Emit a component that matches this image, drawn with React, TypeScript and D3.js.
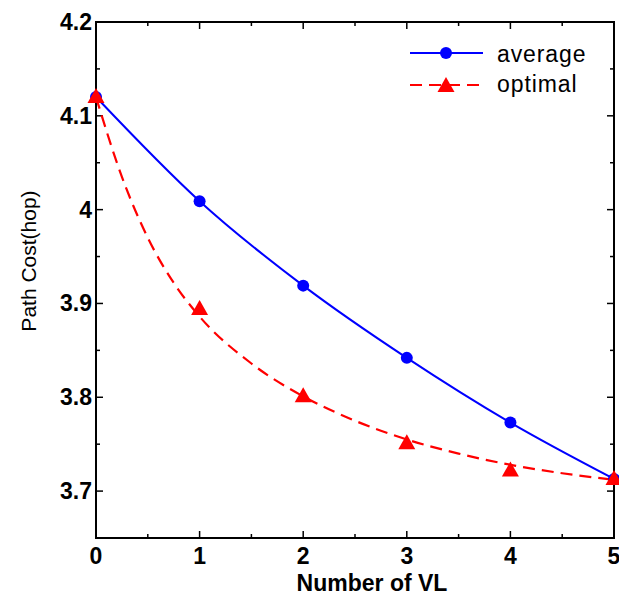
import React from "react";
import * as d3 from "d3";

const vlCounts = [0, 1, 2, 3, 4, 5];
const averageCost = [4.12, 4.009, 3.919, 3.842, 3.773, 3.713];
const optimalCost = [4.12, 3.894, 3.801, 3.751, 3.722, 3.713];
const optimalFitX = [0, 0.25, 0.5, 0.75, 1, 1.5, 2, 2.5, 3, 3.5, 4, 4.5, 5];
const optimalFitY = [4.12, 4.035, 3.97, 3.922, 3.886, 3.836, 3.801, 3.775, 3.755, 3.74, 3.728, 3.719, 3.712];
const xTicks = [0, 1, 2, 3, 4, 5];
const xMinor = [0.5, 1.5, 2.5, 3.5, 4.5];
const yTicks = [3.7, 3.8, 3.9, 4.0, 4.1, 4.2];
const yTickLabels = ["3.7", "3.8", "3.9", "4", "4.1", "4.2"];
const yMinor = [3.65, 3.75, 3.85, 3.95, 4.05, 4.15];
const seriesNames = ["average", "optimal"];

const W = 619, H = 600;
const L = 96, R = 614, T = 22, B = 538;

export default function App() {
  const x = d3.scaleLinear().domain([0, 5]).range([L, R]);
  const y = d3.scaleLinear().domain([3.65, 4.2]).range([B, T]);
  const avgLine = d3.line<number>().x((_, i) => x(vlCounts[i])).y((d) => y(d)).curve(d3.curveMonotoneX);
  const optLine = d3.line<number>().x((_, i) => x(optimalFitX[i])).y((d) => y(d)).curve(d3.curveMonotoneX);
  const tri = (cx: number, cy: number) => `M${cx},${cy - 9}L${cx + 8.5},${cy + 6}L${cx - 8.5},${cy + 6}Z`;
  const font = "Liberation Sans, Arial, sans-serif";
  const major = 7, minor = 4;
  return (
    <div style={{ position: "absolute", left: 0, top: 0 }}>
      <svg width={W} height={H} style={{ display: "block", background: "#fff" }}>
        {/* ticks */}
        <g stroke="#000" strokeWidth={1.5}>
          {xTicks.map((t) => (
            <g key={"xt" + t}>
              <line x1={x(t)} x2={x(t)} y1={B} y2={B - major} />
              <line x1={x(t)} x2={x(t)} y1={T} y2={T + major} />
            </g>
          ))}
          {xMinor.map((t) => (
            <g key={"xm" + t}>
              <line x1={x(t)} x2={x(t)} y1={B} y2={B - minor} />
              <line x1={x(t)} x2={x(t)} y1={T} y2={T + minor} />
            </g>
          ))}
          {yTicks.map((t) => (
            <g key={"yt" + t}>
              <line x1={L} x2={L + major} y1={y(t)} y2={y(t)} />
              <line x1={R} x2={R - major} y1={y(t)} y2={y(t)} />
            </g>
          ))}
          {yMinor.map((t) => (
            <g key={"ym" + t}>
              <line x1={L} x2={L + minor} y1={y(t)} y2={y(t)} />
              <line x1={R} x2={R - minor} y1={y(t)} y2={y(t)} />
            </g>
          ))}
        </g>
        <rect x={L} y={T} width={R - L} height={B - T} fill="none" stroke="#000" strokeWidth={2} />
        {/* tick labels */}
        <g fontFamily={font} fontWeight="bold" fontSize={23} fill="#000">
          {xTicks.map((t) => (
            <text key={"xl" + t} x={x(t)} y={B + 26} textAnchor="middle">{t}</text>
          ))}
          {yTicks.map((t, i) => (
            <text key={"yl" + t} x={L - 4} y={y(t) + 8} textAnchor="end">{yTickLabels[i]}</text>
          ))}
        </g>
        <text x={372} y={591} textAnchor="middle" fontFamily={font} fontWeight="bold" fontSize={23}>Number of VL</text>
        <text transform={`translate(36,261) rotate(-90)`} textAnchor="middle" fontFamily={font} fontSize={21}>Path Cost(hop)</text>
        {/* series */}
        <path d={avgLine(averageCost) || ""} fill="none" stroke="#0000ff" strokeWidth={2} />
        <path d={optLine(optimalFitY) || ""} fill="none" stroke="#ff0000" strokeWidth={2.2} strokeDasharray="12,7" />
        {averageCost.map((v, i) => (
          <circle key={"c" + i} cx={x(vlCounts[i])} cy={y(v)} r={6} fill="#0000ff" />
        ))}
        {optimalCost.map((v, i) => (
          <path key={"t" + i} d={tri(x(vlCounts[i]), y(v))} fill="#ff0000" />
        ))}
        {/* legend */}
        <g>
          <line x1={410} x2={483} y1={53} y2={53} stroke="#0000ff" strokeWidth={2} />
          <circle cx={446} cy={53} r={6} fill="#0000ff" />
          <line x1={410} x2={483} y1={85} y2={85} stroke="#ff0000" strokeWidth={2.2} strokeDasharray="12,7" />
          <path d={tri(446, 86)} fill="#ff0000" />
          <text x={497} y={62} fontFamily={font} fontSize={23} letterSpacing={0.9}>{seriesNames[0]}</text>
          <text x={497} y={92} fontFamily={font} fontSize={23} letterSpacing={0.9}>{seriesNames[1]}</text>
        </g>
      </svg>
    </div>
  );
}
